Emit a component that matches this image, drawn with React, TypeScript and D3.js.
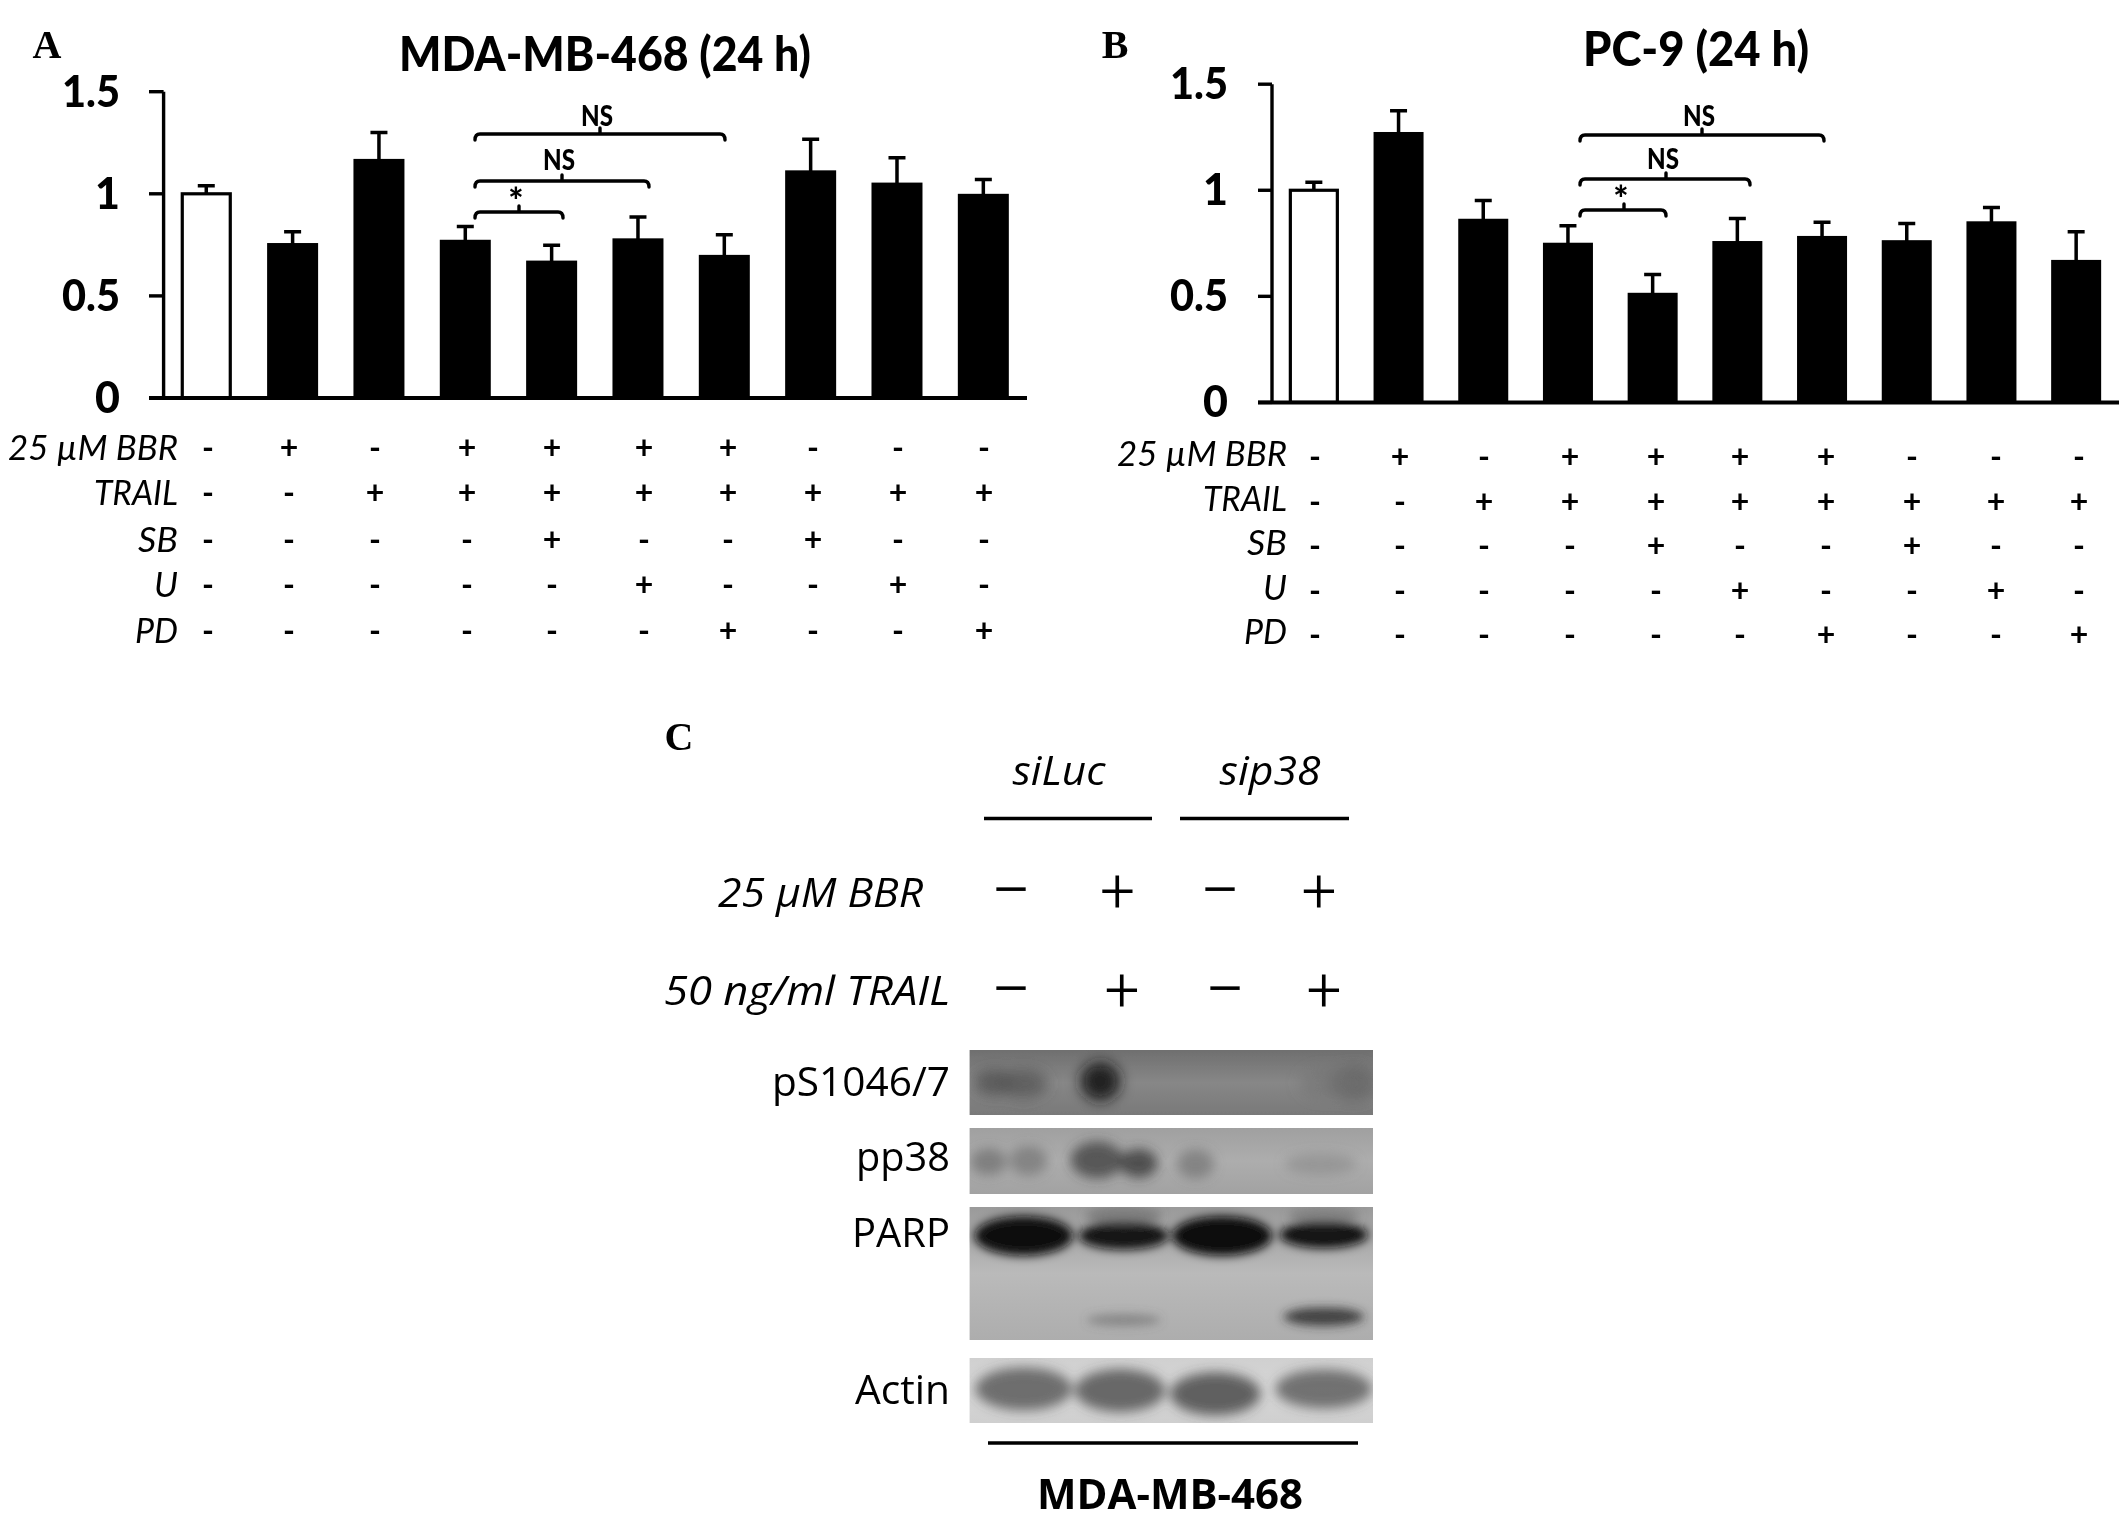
import React from "react";
import * as d3 from "d3";

// ---------- Data ----------
const rowLabels = ["25 µM BBR", "TRAIL", "SB", "U", "PD"];
const signRows = [
  "-+-++++---",
  "--++++++++",
  "----+--+--",
  "-----+--+-",
  "------+--+",
];
const valuesA = [1.0, 0.754, 1.166, 0.77, 0.668, 0.777, 0.696, 1.11, 1.05, 0.995];
const errTopsA = [1.04, 0.814, 1.3, 0.84, 0.748, 0.886, 0.8, 1.267, 1.177, 1.07];
const valuesB = [1.0, 1.27, 0.861, 0.748, 0.512, 0.756, 0.78, 0.76, 0.849, 0.667];
const errTopsB = [1.038, 1.375, 0.952, 0.833, 0.603, 0.867, 0.849, 0.843, 0.919, 0.804];
const yTicks = [0, 0.5, 1, 1.5];
const bracketLabels = ["*", "NS", "NS"];

const blotLabels = ["pS1046/7", "pp38", "PARP", "Actin"];
const bbrSigns = ["−", "+", "−", "+"];
const trailSigns = ["−", "+", "−", "+"];
// band: lane position, vertical position (both in 0..1 of the blot), half-width, half-height, darkness
type Band = [number, number, number, number, number];
const bandsPS: Band[] = [
  [0.06, 0.5, 0.05, 0.2, 0.5], [0.134, 0.52, 0.06, 0.22, 0.46], [0.324, 0.485, 0.05, 0.3, 0.85],
  [0.952, 0.51, 0.062, 0.28, 0.36], [0.878, 0.51, 0.06, 0.24, 0.2],
];
const bandsPP38: Band[] = [
  [0.047, 0.51, 0.045, 0.2, 0.34], [0.146, 0.495, 0.047, 0.22, 0.3], [0.316, 0.485, 0.066, 0.28, 0.6],
  [0.419, 0.535, 0.047, 0.22, 0.66], [0.56, 0.545, 0.046, 0.22, 0.3], [0.87, 0.545, 0.09, 0.16, 0.12],
];
const bandsPARP: Band[] = [
  [0.134, 0.217, 0.122, 0.15, 0.98], [0.382, 0.217, 0.112, 0.105, 0.92], [0.626, 0.217, 0.124, 0.15, 1],
  [0.878, 0.21, 0.11, 0.1, 0.96], [0.382, 0.065, 0.095, 0.07, 0.3], [0.878, 0.065, 0.088, 0.065, 0.25],
  [0.382, 0.85, 0.092, 0.045, 0.28], [0.878, 0.825, 0.1, 0.07, 0.72],
];
const bandsActin: Band[] = [
  [0.134, 0.475, 0.12, 0.33, 0.55], [0.373, 0.5, 0.112, 0.33, 0.58], [0.609, 0.55, 0.112, 0.33, 0.62],
  [0.878, 0.475, 0.12, 0.3, 0.52],
];
const blotBands = [bandsPS, bandsPP38, bandsPARP, bandsActin];

// ---------- Layout ----------
const INK = "#000";
const LATO = "Lato, 'Noto Sans', sans-serif";
const OPEN = "'Open Sans', 'Noto Sans', sans-serif";
const SERIF = "'Liberation Serif', serif";

const layoutA = {
  x0: 163.6, x1: 1027, y0: 398, y1: 91.7, barW: 51, axisStart: 149,
  rowY: [448, 493, 540, 585, 631], labelRight: 178, labelDy: 0,
  signX: [208, 289, 375, 467, 552, 644, 728, 813, 898, 984],
  brackets: [
    { y: 212, x0: 475, x1: 563, tick: 519, ty: 197 },
    { y: 181, x0: 475, x1: 649, tick: 562, ty: 160 },
    { y: 134, x0: 475, x1: 725, tick: 600, ty: 116 },
  ],
  titleX: 605, titleY: 71, title: "MDA-MB-468 (24 h)", titleW: 412,
  tag: "A", tagX: 47, tagY: 58, tickRight: 120,
};
const layoutB = {
  x0: 1272, x1: 2119, y0: 402.4, y1: 84.2, barW: 50, axisStart: 1258,
  rowY: [457, 502, 546, 591, 635], labelRight: 1287, labelDy: -3,
  signX: [1315, 1400, 1484, 1570, 1656, 1740, 1826, 1912, 1996, 2079],
  brackets: [
    { y: 210, x0: 1580, x1: 1666, tick: 1624, ty: 195 },
    { y: 179, x0: 1580, x1: 1750, tick: 1666, ty: 159 },
    { y: 135, x0: 1580, x1: 1824, tick: 1702, ty: 116 },
  ],
  titleX: 1696, titleY: 66, title: "PC-9 (24 h)", titleW: 226,
  tag: "B", tagX: 1115, tagY: 58, tickRight: 1228,
};
const rowLabelW = [170, 84, 40, 24, 43];

function bracketPath(b: { y: number; x0: number; x1: number; tick: number }) {
  const p = d3.path();
  p.moveTo(b.x0, b.y + 6);
  p.quadraticCurveTo(b.x0, b.y, b.x0 + 5, b.y);
  p.lineTo(b.x1 - 5, b.y);
  p.quadraticCurveTo(b.x1, b.y, b.x1, b.y + 6);
  p.moveTo(b.tick, b.y);
  p.lineTo(b.tick, b.y - 6);
  return p.toString();
}

function Panel({ L, values, errs }: { L: typeof layoutA; values: number[]; errs: number[] }) {
  const x = d3.scaleBand<number>().domain(d3.range(values.length)).range([L.x0, L.x1]);
  const y = d3.scaleLinear().domain([0, 1.5]).range([L.y0, L.y1]);
  const cx = (i: number) => (x(i) as number) + x.bandwidth() / 2 - 0.5;
  return (
    <g>
      <text x={L.tagX} y={L.tagY} fontFamily={SERIF} fontWeight={700} fontSize={40} textAnchor="middle" fill={INK}>{L.tag}</text>
      <text x={L.titleX} y={L.titleY} fontFamily={LATO} fontWeight={900} fontSize={47} textAnchor="middle" textLength={L.titleW} lengthAdjust="spacingAndGlyphs" fill={INK}>{L.title}</text>
      {values.map((v, i) => (
        <g key={i}>
          <path d={`M${cx(i)},${y(v)}V${y(errs[i])}M${cx(i) - 8.5},${y(errs[i])}H${cx(i) + 8.5}`} stroke={INK} strokeWidth={3.5} fill="none" />
          {i === 0
            ? <rect x={cx(i) - L.barW / 2 + 1.5} y={y(v)} width={L.barW - 3} height={L.y0 - y(v)} fill="#fff" stroke="#000" strokeWidth={3.2} />
            : <rect x={cx(i) - L.barW / 2} y={y(v) - 1} width={L.barW} height={L.y0 - y(v) + 1} fill="#000" />}
        </g>
      ))}
      <path d={`M${L.x0},${L.y1}V${L.y0}`} stroke={INK} strokeWidth={3.4} />
      <path d={`M${L.axisStart},${L.y0}H${L.x1}`} stroke={INK} strokeWidth={4} />
      {yTicks.map((t) => (
        <g key={t}>
          <path d={`M${L.axisStart},${y(t)}H${L.x0}`} stroke={INK} strokeWidth={3.4} />
          <text x={L.tickRight} y={y(t) + 15} fontFamily={LATO} fontWeight={900} fontSize={43} textAnchor="end" textLength={t === 0 || t === 1 ? undefined : 58} lengthAdjust="spacingAndGlyphs" fill={INK}>{t}</text>
        </g>
      ))}
      {L.brackets.map((b, i) => (
        <g key={i}>
          <path d={bracketPath(b)} stroke={INK} strokeWidth={3.4} fill="none" strokeLinecap="round" />
          <text x={b.tick - 3} y={b.ty + (i === 0 ? 17 : 10)} fontFamily={LATO} fontWeight={900} fontSize={i === 0 ? 36 : 28} textAnchor="middle" textLength={i === 0 ? undefined : 32} lengthAdjust="spacingAndGlyphs" fill={INK}>{bracketLabels[i]}</text>
        </g>
      ))}
      {rowLabels.map((r, i) => (
        <g key={r}>
          <text x={L.labelRight} y={L.rowY[i] + 12 + L.labelDy} fontFamily={LATO} fontStyle="italic" fontSize={35} textAnchor="end" textLength={rowLabelW[i]} lengthAdjust="spacingAndGlyphs" fill={INK}>{r}</text>
          {Array.from(signRows[i]).map((s, j) => (
            <text key={j} x={L.signX[j]} y={L.rowY[i] + 11} fontFamily={LATO} fontSize={32} textAnchor="middle" fontWeight={700} fill={INK}>{s}</text>
          ))}
        </g>
      ))}
    </g>
  );
}

const blotRects = [
  { y0: 1050, y1: 1115, blur: 7, bg: ["#6f6f6f", "#878787", "#797979"] },
  { y0: 1128, y1: 1194, blur: 6, bg: ["#a0a0a0", "#adadad", "#a2a2a2"] },
  { y0: 1207, y1: 1340, blur: 5, bg: ["#9a9a9a", "#bababa", "#adadad"] },
  { y0: 1358, y1: 1423, blur: 6, bg: ["#d0d0d0", "#d6d6d6", "#cfcfcf"] },
];
const blotLabelBase = [1096, 1171, 1247, 1404];
const blotLabelW = [178, 94, 98, 95];

function PanelC() {
  const bx = d3.scaleLinear().domain([0, 1]).range([969.6, 1373]);
  const dark = d3.scaleLinear<string>().domain([0, 1]).range(["#888", "#080808"]);
  const signX1 = [1011, 1117.5, 1220, 1319];
  const signX2 = [1011, 1122, 1225, 1324];
  const sign = (s: string, px: number, py: number) => (
    <text x={px} y={py + (s === "+" ? 21 : 24)} fontFamily="Roboto, sans-serif" fontWeight={300} fontSize={s === "+" ? 62 : 72} textAnchor="middle" fill={INK} key={px + "-" + py}>{s}</text>
  );
  return (
    <g>
      <defs>
        {blotRects.map((b, i) => (
          <clipPath id={`clip${i}`} key={i}><rect x={969.6} y={b.y0} width={403.4} height={b.y1 - b.y0} /></clipPath>
        ))}
        {blotRects.map((b, i) => (
          <linearGradient id={`bg${i}`} key={i} x1="0" x2="0" y1="0" y2="1">
            <stop offset="0" stopColor={b.bg[0]} />
            <stop offset="0.5" stopColor={b.bg[1]} />
            <stop offset="1" stopColor={b.bg[2]} />
          </linearGradient>
        ))}
        {blotRects.map((b, i) => (
          <filter id={`bandBlur${i}`} key={i} x="-40%" y="-60%" width="180%" height="220%"><feGaussianBlur stdDeviation={b.blur} /></filter>
        ))}
      </defs>
      <text x={679} y={750} fontFamily={SERIF} fontWeight={700} fontSize={40} textAnchor="middle" fill={INK}>C</text>
      <text x={1059} y={785} fontFamily={OPEN} fontStyle="italic" fontSize={41} textAnchor="middle" textLength={93} lengthAdjust="spacingAndGlyphs" fill={INK}>siLuc</text>
      <text x={1270} y={785} fontFamily={OPEN} fontStyle="italic" fontSize={41} textAnchor="middle" textLength={101} lengthAdjust="spacingAndGlyphs" fill={INK}>sip38</text>
      <path d="M984,818.5H1152M1180,818.5H1349" stroke={INK} strokeWidth={3.4} />
      <text x={923} y={907} fontFamily={OPEN} fontStyle="italic" fontSize={41} textAnchor="end" textLength={205} lengthAdjust="spacingAndGlyphs" fill={INK}>25 µM BBR</text>
      <text x={950} y={1005} fontFamily={OPEN} fontStyle="italic" fontSize={41} textAnchor="end" textLength={286} lengthAdjust="spacingAndGlyphs" fill={INK}>50 ng/ml TRAIL</text>
      {bbrSigns.map((s, i) => sign(s, signX1[i], 890.6))}
      {trailSigns.map((s, i) => sign(s, signX2[i], 990))}
      {blotRects.map((b, i) => {
        const by = d3.scaleLinear().domain([0, 1]).range([b.y0, b.y1]);
        return (
          <g key={i}>
            <rect x={969.6} y={b.y0} width={403.4} height={b.y1 - b.y0} fill={`url(#bg${i})`} />
            <g clipPath={`url(#clip${i})`}>
              <g filter={`url(#bandBlur${i})`}>
                {blotBands[i].map((d, j) => (
                  <ellipse key={j} cx={bx(d[0])} cy={by(d[1])} rx={bx(d[2]) - bx(0)} ry={by(d[3]) - by(0)} fill={dark(d[4])} opacity={0.35 + d[4] * 0.65} />
                ))}
              </g>
            </g>
            <text x={950} y={blotLabelBase[i]} fontFamily={OPEN} fontSize={41} textAnchor="end" textLength={blotLabelW[i]} lengthAdjust="spacingAndGlyphs" fill={INK}>{blotLabels[i]}</text>
          </g>
        );
      })}
      <path d="M988,1443H1358" stroke={INK} strokeWidth={3.4} />
      <text x={1170} y={1509} fontFamily={OPEN} fontWeight={700} fontSize={41} textAnchor="middle" textLength={266} lengthAdjust="spacingAndGlyphs" fill={INK}>MDA-MB-468</text>
    </g>
  );
}

export default function App() {
  return (
    <svg width={2126} height={1537} viewBox="0 0 2126 1537" style={{ position: "absolute", left: 0, top: 0, background: "#fff" }}>
      <defs>
        <filter id="soft" x="0" y="0" width="100%" height="100%"><feGaussianBlur stdDeviation="0.6" /></filter>
      </defs>
      <rect width={2126} height={1537} fill="#fff" />
      <g filter="url(#soft)">
        <Panel L={layoutA} values={valuesA} errs={errTopsA} />
        <Panel L={layoutB} values={valuesB} errs={errTopsB} />
        <PanelC />
      </g>
    </svg>
  );
}
